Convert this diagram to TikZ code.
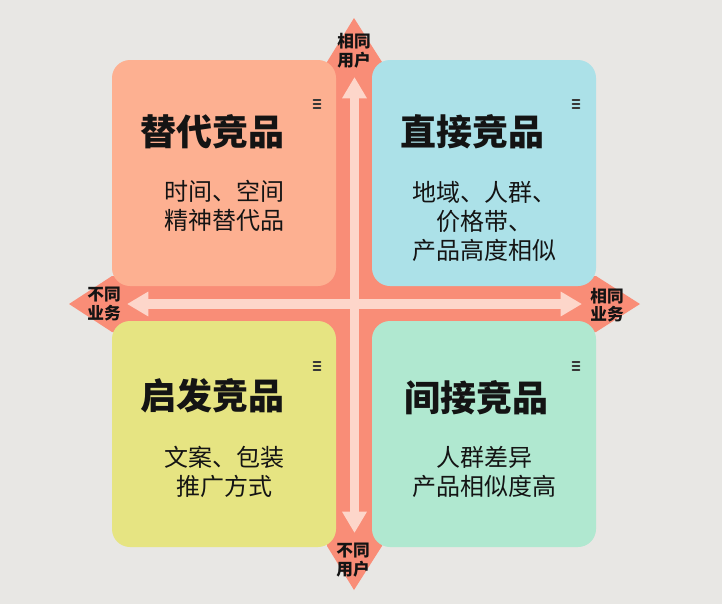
\documentclass[tikz,border=0pt]{standalone}
\usepackage{fontspec}
\setmainfont{Noto Sans CJK SC}
\usetikzlibrary{arrows.meta}
\definecolor{bg}{HTML}{E8E7E4}
\definecolor{salmon}{HTML}{F98D77}
\definecolor{stripe}{HTML}{FDD6CA}
\definecolor{peach}{HTML}{FDB091}
\definecolor{cyanbox}{HTML}{ACE1E8}
\definecolor{yelbox}{HTML}{E6E482}
\definecolor{mintbox}{HTML}{B0E8D0}
\definecolor{ink}{HTML}{141414}
\tikzset{
  quad/.style={rounded corners=13.5pt, minimum width=168pt, minimum height=169.5pt, inner sep=0pt, draw=none},
  ttl/.style={font=\fontsize{27}{30}\selectfont\bfseries, text=ink, inner sep=0pt},
  sub/.style={font=\fontsize{18}{21.75}\selectfont, text=ink, align=center, inner sep=0pt},
  axl/.style={font=\fontsize{12.5}{14}\selectfont\bfseries, text=ink, align=center, inner sep=0pt},
  lightarr/.style={draw=stripe, line width=7pt, {Triangle[length=16pt,width=17.5pt]}-{Triangle[length=16pt,width=17.5pt]}},
  icon/.style={draw=ink!85, line width=1.2pt, line cap=round}
}
\newcommand{\menuicon}[2]{%
  \draw[icon] (#1-3.5,#2-4) -- (#1+3.5,#2-4);
  \draw[icon] (#1-3.5,#2) -- (#1+3.5,#2);
  \draw[icon] (#1-3.5,#2+4) -- (#1+3.5,#2+4);}
\begin{document}
\begin{tikzpicture}[x=0.75pt,y=-0.75pt]
\useasboundingbox (0,0) rectangle (722,604);
\fill[bg] (0,0) rectangle (722,604);
% salmon cross arrows
\fill[salmon] (354,18) -- (382,62) -- (382,546) -- (354,590) -- (327,546) -- (327,62) -- cycle;
\fill[salmon] (69,304) -- (112,276) -- (596,276) -- (640,304) -- (596,332) -- (112,332) -- cycle;
% light stripes
\coordinate (vt) at (354.5,77);
\coordinate (vb) at (354.5,533);
\coordinate (hl) at (127,304);
\coordinate (hr) at (582,304);
\draw[lightarr] (vb) -- (vt);
\draw[lightarr] (hl) -- (hr);
% quadrants
\node[quad, fill=peach] (tl) at (224,173) {};
\node[quad, fill=cyanbox] (tr) at (484,173) {};
\node[quad, fill=yelbox] (bl) at (224,434) {};
\node[quad, fill=mintbox] (br) at (484,434) {};
% icons
\menuicon{317}{104}
\menuicon{576}{104}
\menuicon{317}{366}
\menuicon{576}{366}
% titles
\node[ttl] (t1) at (212,132) {替代竞品};
\node[ttl] (t2) at (472,132) {直接竞品};
\node[ttl] (t3) at (212,396) {启发竞品};
\node[ttl] (t4) at (476,398) {间接竞品};
% subtexts
\node[sub] (s1) at (224,205.5) {时间、空间\\精神替代品};
\node[sub] (s2) at (484,221.5) {地域、人群、\\价格带、\\产品高度相似};
\node[sub] (s3) at (224,471.5) {文案、包装\\推广方式};
\node[sub] (s4) at (484,471.5) {人群差异\\产品相似度高};
% axis labels
\node[axl] (a1) at (354,50.5) {相同\\用户};
\node[axl] (a2) at (104,304) {不同\\业务};
\node[axl] (a3) at (607,305) {相同\\业务};
\node[axl] (a4) at (353,560) {不同\\用户};
\end{tikzpicture}
\end{document}
